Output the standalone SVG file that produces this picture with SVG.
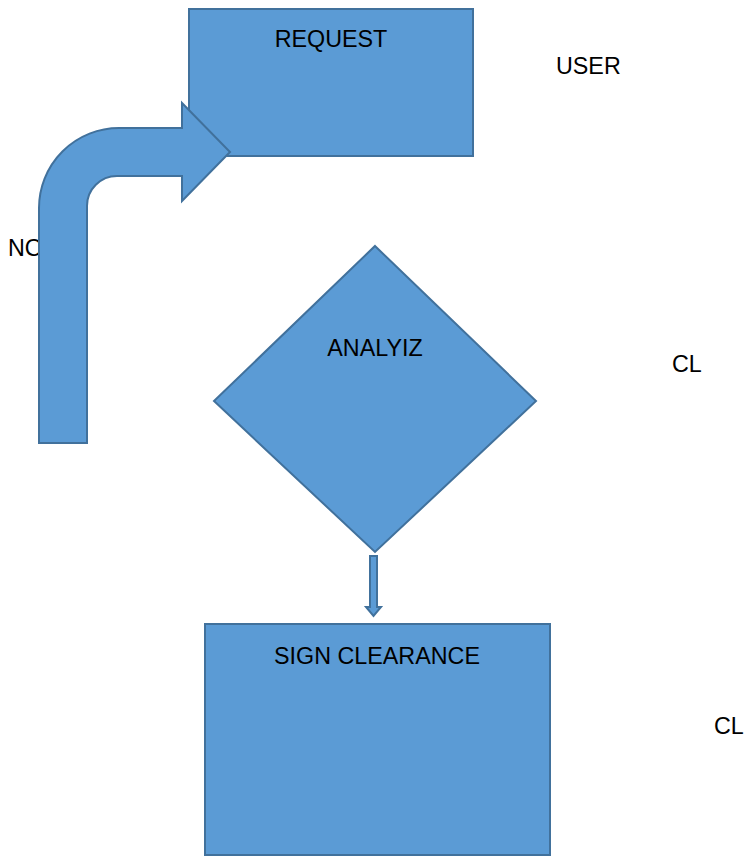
<svg xmlns="http://www.w3.org/2000/svg" width="745" height="859" viewBox="0 0 745 859">
<style>
.shape{fill:#5B9BD5;stroke:#41719C;stroke-width:2;stroke-linejoin:miter}
.lbl{font-family:"Liberation Sans",Arial,sans-serif;font-size:23.3px;fill:#000}
</style>
<rect width="745" height="859" fill="#fff"/>
<g id="label-no"><text class="lbl" x="8" y="256">NO</text></g>
<g id="request"><rect class="shape" x="189" y="9" width="284" height="147"/><text class="lbl" x="331" y="47" text-anchor="middle">REQUEST</text></g>
<g id="connectors">
<path class="shape" d="M39,443 L39,208 A80,80 0 0 1 119,128 L182,128 L182,103 L230,152 L182,201 L182,176 L117,176 A30,30 0 0 0 87,206 L87,443 Z"/>
<path class="shape" d="M370,556 L377,556 L377,607 L381,607 L373.5,616 L366,607 L370,607 Z" stroke-width="1.5"/>
</g>
<g id="label-user"><text class="lbl" x="556" y="74">USER</text></g>
<g id="analyiz"><polygon class="shape" points="375,246 536,401 375,552 214,401"/><text class="lbl" x="375" y="356" text-anchor="middle">ANALYIZ</text></g>
<g id="label-cl1"><text class="lbl" x="672" y="372">CL</text></g>
<g id="sign-clearance"><rect class="shape" x="205" y="624" width="345" height="231"/><text class="lbl" x="377" y="664" text-anchor="middle">SIGN CLEARANCE</text></g>
<g id="label-cl2"><text class="lbl" x="714" y="734">CL</text></g>
</svg>
